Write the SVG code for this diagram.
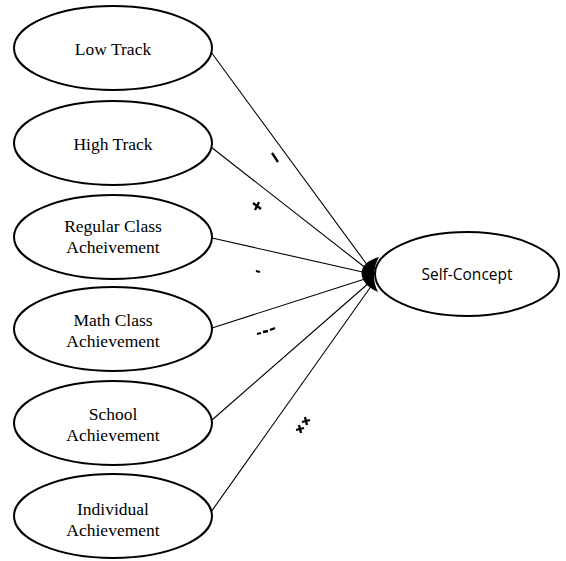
<svg xmlns="http://www.w3.org/2000/svg" width="566" height="561" viewBox="0 0 566 561">
<style>
.node ellipse{fill:#fff;stroke:#000;stroke-width:2}
.lbl{font-family:"Liberation Serif",serif;font-size:17.5px;text-anchor:middle;fill:#000}
.sc{font-family:"Open Sans","Liberation Sans",sans-serif;font-size:15.5px;text-anchor:middle;fill:#000}
.conn line{stroke:#000;stroke-width:1.1}
.sign line{stroke:#000;stroke-width:2.3}
</style>
<rect width="566" height="561" fill="#fff"/>
<g id="low-track" class="node"><ellipse cx="113" cy="48" rx="99" ry="42"/><text class="lbl" x="113" y="55">Low Track</text></g>
<g id="high-track" class="node"><ellipse cx="113" cy="143" rx="99" ry="42"/><text class="lbl" x="113" y="150">High Track</text></g>
<g id="regular-class" class="node"><ellipse cx="113" cy="237" rx="99" ry="42"/><text class="lbl" x="113" y="232">Regular Class</text><text class="lbl" x="113" y="253">Acheivement</text></g>
<g id="math-class" class="node"><ellipse cx="113" cy="329" rx="99" ry="42"/><text class="lbl" x="113" y="326">Math Class</text><text class="lbl" x="113" y="347">Achievement</text></g>
<g id="school" class="node"><ellipse cx="113" cy="423" rx="99" ry="42"/><text class="lbl" x="113" y="420">School</text><text class="lbl" x="113" y="441">Achievement</text></g>
<g id="individual" class="node"><ellipse cx="113" cy="516" rx="99" ry="42"/><text class="lbl" x="113" y="515">Individual</text><text class="lbl" x="113" y="536">Achievement</text></g>
<g id="self-concept" class="node"><ellipse cx="467" cy="274" rx="92" ry="42"/><text class="sc" x="467" y="280">Self-Concept</text></g>
<g id="connectors" class="conn">
<line x1="211" y1="52" x2="368" y2="266"/>
<line x1="211" y1="147" x2="367" y2="269"/>
<line x1="212" y1="238" x2="367" y2="273"/>
<line x1="212" y1="328" x2="368" y2="278"/>
<line x1="212" y1="420" x2="370" y2="282"/>
<line x1="211" y1="512" x2="372" y2="285"/>
<path d="M379,257 Q362,262 361.5,273 Q362,285 378,292 Q373.5,283 374,274 Q374.5,265 379,257 Z" fill="#000" stroke="none"/>
</g>
<g id="signs" class="sign">
<line x1="272" y1="153" x2="278" y2="162"/>
<line x1="253" y1="203" x2="261" y2="209"/><line x1="255" y1="210" x2="259" y2="202"/>
<line x1="256" y1="271" x2="260" y2="272"/>
<line x1="257" y1="334" x2="261" y2="333"/><line x1="263" y1="332" x2="268" y2="331"/><line x1="270" y1="330" x2="275" y2="328"/>
<line x1="296" y1="430" x2="304" y2="428"/><line x1="299" y1="425" x2="301" y2="433"/><line x1="302" y1="422" x2="310" y2="420"/><line x1="305" y1="417" x2="307" y2="425"/>
</g>
</svg>
